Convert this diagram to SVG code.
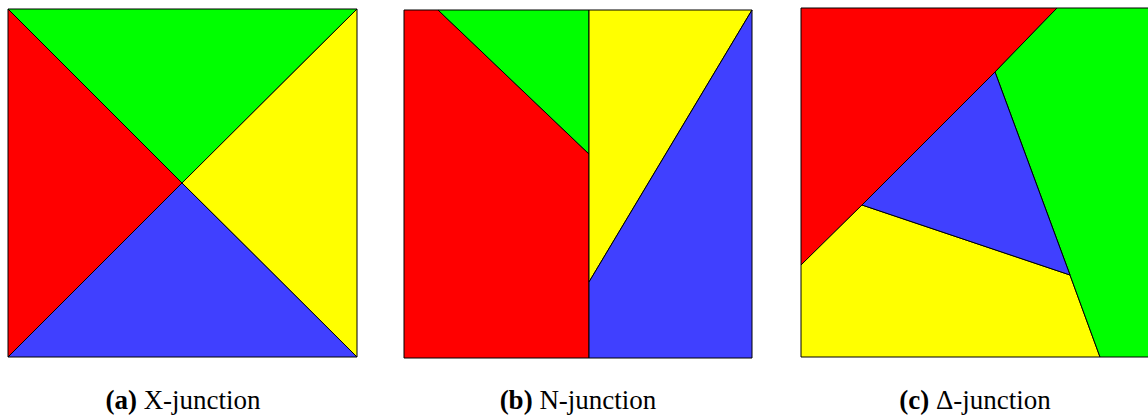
<svg xmlns="http://www.w3.org/2000/svg" width="1148" height="416" viewBox="0 0 1148 416">
<style>
.r{fill:#ff0000}.g{fill:#00ff00}.y{fill:#ffff00}.b{fill:#4040ff}
polygon{stroke:#000;stroke-width:1;stroke-linejoin:round}
text{font-family:"Liberation Serif","Times New Roman",serif;font-size:27px;fill:#000;text-anchor:middle}
</style>
<rect width="1148" height="416" fill="#fff"/>
<g id="panel-a">
<polygon class="r" points="8,9 182,183 8,357"/>
<polygon class="g" points="8,9 357,9 182,183"/>
<polygon class="y" points="357,9 357,357 182,183"/>
<polygon class="b" points="8,357 182,183 357,357"/>
</g>
<g id="panel-b">
<polygon class="r" points="404,10 438,10 589,154 589,358 404,358"/>
<polygon class="g" points="438,10 589,10 589,154"/>
<polygon class="y" points="589,10 752,10 589,282"/>
<polygon class="b" points="752,10 752,358 589,358 589,282"/>
</g>
<g id="panel-c">
<polygon class="r" points="801,8 1057,8 995,72 862,205 801,265"/>
<polygon class="y" points="801,265 862,205 1070,275 1100,357 801,357"/>
<polygon class="g" points="1057,8 1149,8 1149,357 1100,357 1070,275 995,72"/>
<polygon class="b" points="995,72 1070,275 862,205"/>
</g>
<g id="captions">
<text x="183" y="409"><tspan font-weight="bold">(a)</tspan> X-junction</text>
<text x="578" y="409"><tspan font-weight="bold">(b)</tspan> N-junction</text>
<text x="975" y="409"><tspan font-weight="bold">(c)</tspan> Δ-junction</text>
</g>
</svg>
